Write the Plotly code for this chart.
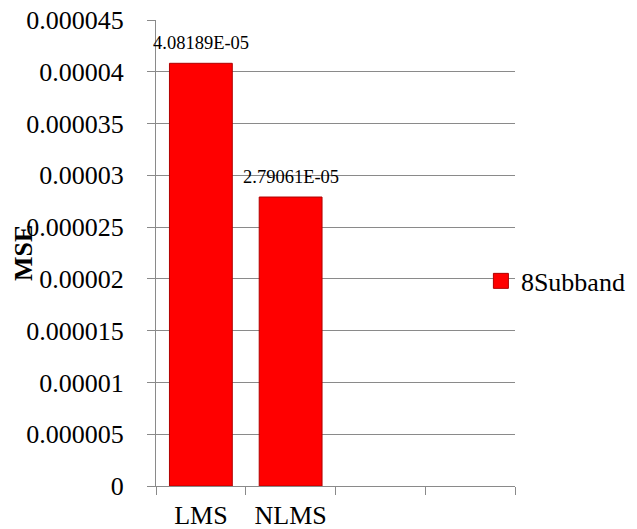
import plotly.graph_objects as go

# Mean squared error of each adaptive filter (8-subband structure)
algorithms = ["LMS", "NLMS", " ", "  "]
mse_8subband = [4.08189e-05, 2.79061e-05, None, None]

y_tick_values = [0, 0.000005, 0.00001, 0.000015, 0.00002,
                 0.000025, 0.00003, 0.000035, 0.00004, 0.000045]
y_tick_labels = ["0", "0.000005", "0.00001", "0.000015", "0.00002",
                 "0.000025", "0.00003", "0.000035", "0.00004", "0.000045"]

FONT = "Liberation Serif"
GRID = "#8a8a8a"
RED = "#ff0000"
EDGE = "#b00000"


def excel_sci(v):
    return f"{v:.5E}"


fig = go.Figure()

fig.add_trace(go.Bar(
    x=algorithms,
    y=mse_8subband,
    marker=dict(color=RED, line=dict(color=EDGE, width=1)),
    showlegend=False,
    hoverinfo="x+y",
))

# legend entry with a slightly larger square swatch
fig.add_trace(go.Scatter(
    x=[None], y=[None], mode="markers", name="8Subband",
    marker=dict(symbol="square", size=15, color=RED,
                line=dict(color=EDGE, width=1)),
))

# value labels above the bars
for cat, val in zip(algorithms, mse_8subband):
    if val is None:
        continue
    fig.add_annotation(
        x=cat, y=val, text=excel_sci(val), showarrow=False,
        yanchor="bottom", yshift=8,
        font=dict(family=FONT, size=18.5, color="#000000"),
    )

# vertical axis title
fig.add_annotation(
    xref="paper", yref="paper", x=0, y=0.5, xshift=-133,
    xanchor="center", yanchor="middle", textangle=-90,
    text="<b>MSE</b>", showarrow=False,
    font=dict(family=FONT, size=26, color="#000000"),
)

fig.update_layout(
    width=637, height=529,
    margin=dict(l=156, r=122, t=20, b=43, autoexpand=False),
    paper_bgcolor="white", plot_bgcolor="white",
    bargap=0.3,
    font=dict(family=FONT, size=26, color="#000000"),
    legend=dict(
        x=0.905, y=0.44, xanchor="left", yanchor="middle",
        bgcolor="rgba(0,0,0,0)", borderwidth=0,
        font=dict(family=FONT, size=26, color="#000000"),
        itemwidth=30,
    ),
    xaxis=dict(
        type="category",
        categoryorder="array", categoryarray=algorithms,
        range=[-0.5, 3.5],
        tickson="boundaries", ticks="outside", ticklen=8,
        tickcolor=GRID, tickwidth=1,
        showline=True, linecolor=GRID, linewidth=1,
        showgrid=False, zeroline=False,
        tickfont=dict(family=FONT, size=26),
        ticklabelstandoff=6,
        automargin=False,
        fixedrange=True,
    ),
    yaxis=dict(
        range=[0, 0.000045],
        tickmode="array", tickvals=y_tick_values, ticktext=y_tick_labels,
        ticks="outside", ticklen=8, tickcolor=GRID, tickwidth=1,
        showline=True, linecolor=GRID, linewidth=1,
        showgrid=True, gridcolor=GRID, gridwidth=1,
        zeroline=False,
        tickfont=dict(family=FONT, size=26),
        ticklabelstandoff=18,
        automargin=False,
        fixedrange=True,
    ),
)

fig.write_html("out.html")
